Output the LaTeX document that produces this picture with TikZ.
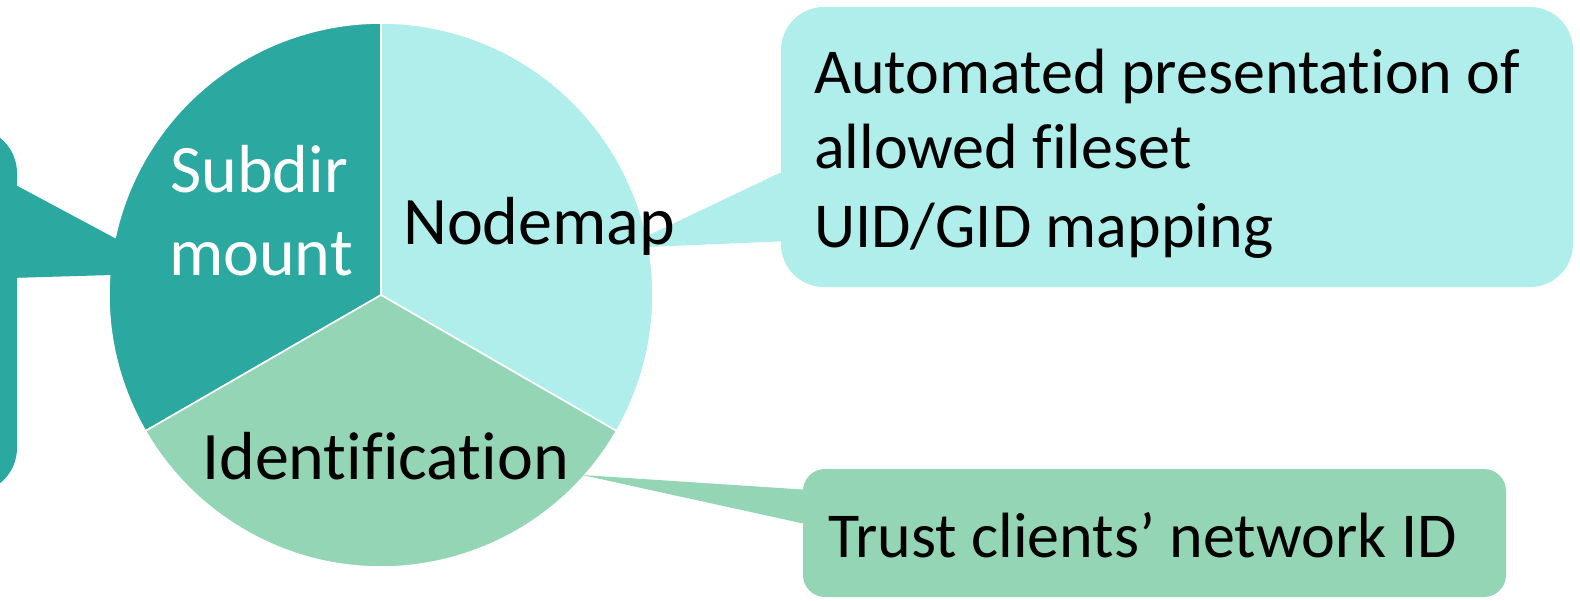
\documentclass[tikz,border=0pt]{standalone}
\usepackage{fontspec}
\setmainfont[Ligatures=NoCommon]{Carlito}

\definecolor{subdircol}{HTML}{2BA8A0}
\definecolor{nodemapcol}{HTML}{AFEEEA}
\definecolor{identcol}{HTML}{94D5B6}

\tikzset{
  sector/.style={draw=white, line width=1.6pt, line join=round},
  pielabel/.style={inner sep=0pt, font=\fontsize{68}{80}\selectfont},
  boxlabel/.style={inner sep=0pt, anchor=base west, font=\fontsize{64}{77}\selectfont},
}

\begin{document}
\begin{tikzpicture}[x=1pt, y=-1pt]
  \useasboundingbox (0,0) rectangle (1580,600);
  \fill[white] (0,0) rectangle (1580,600);

  % pie centre and radius
  \coordinate (c) at (381,295);
  \def\R{272}

  % three equal sectors
  \filldraw[sector, fill=subdircol] (c) -- ++(150:\R) arc[start angle=150, end angle=270, radius=\R] -- cycle;
  \filldraw[sector, fill=nodemapcol] (c) -- ++(270:\R) arc[start angle=270, end angle=390, radius=\R] -- cycle;
  \filldraw[sector, fill=identcol] (c) -- ++(30:\R) arc[start angle=30, end angle=150, radius=\R] -- cycle;

  % left callout (cut by the page edge)
  \coordinate (lt1) at (10,182);
  \coordinate (lt2) at (10,278);
  \coordinate (ltip) at (180,273);
  \fill[subdircol, rounded corners=45pt] (-80,128) rectangle (17,493);
  \fill[subdircol] (lt1) -- (ltip) -- (lt2) -- cycle;

  % Nodemap callout
  \coordinate (nt1) at (790,168);
  \coordinate (nt2) at (790,241);
  \coordinate (ntip) at (622,248);
  \fill[nodemapcol, rounded corners=43pt] (781,7) rectangle (1573,287);
  \fill[nodemapcol] (nt1) -- (ntip) -- (nt2) -- cycle;

  % Identification callout
  \coordinate (it1) at (810,490);
  \coordinate (it2) at (810,525);
  \coordinate (itip) at (582,475);
  \fill[identcol, rounded corners=22pt] (803,469) rectangle (1506,597);
  \fill[identcol] (it1) -- (itip) -- (it2) -- cycle;

  % sector labels
  \node[pielabel, text=white, anchor=base] (subdir) at (259,192) {Subdir};
  \node[pielabel, text=white, anchor=base] (mount) at (261,275) {mount};
  \node[pielabel, anchor=base west] (nodemap) at (403,244) {Nodemap};
  \node[pielabel, anchor=base west] (ident) at (202,479) {Identification};

  % callout texts
  \node[boxlabel] (auto1) at (814,93) {Automated presentation of};
  \node[boxlabel] (auto2) at (814,168) {allowed fileset};
  \node[boxlabel] (auto3) at (814,247) {UID/GID mapping};
  \node[boxlabel] (trust) at (828,557) {Trust clients’ network ID};
\end{tikzpicture}
\end{document}
